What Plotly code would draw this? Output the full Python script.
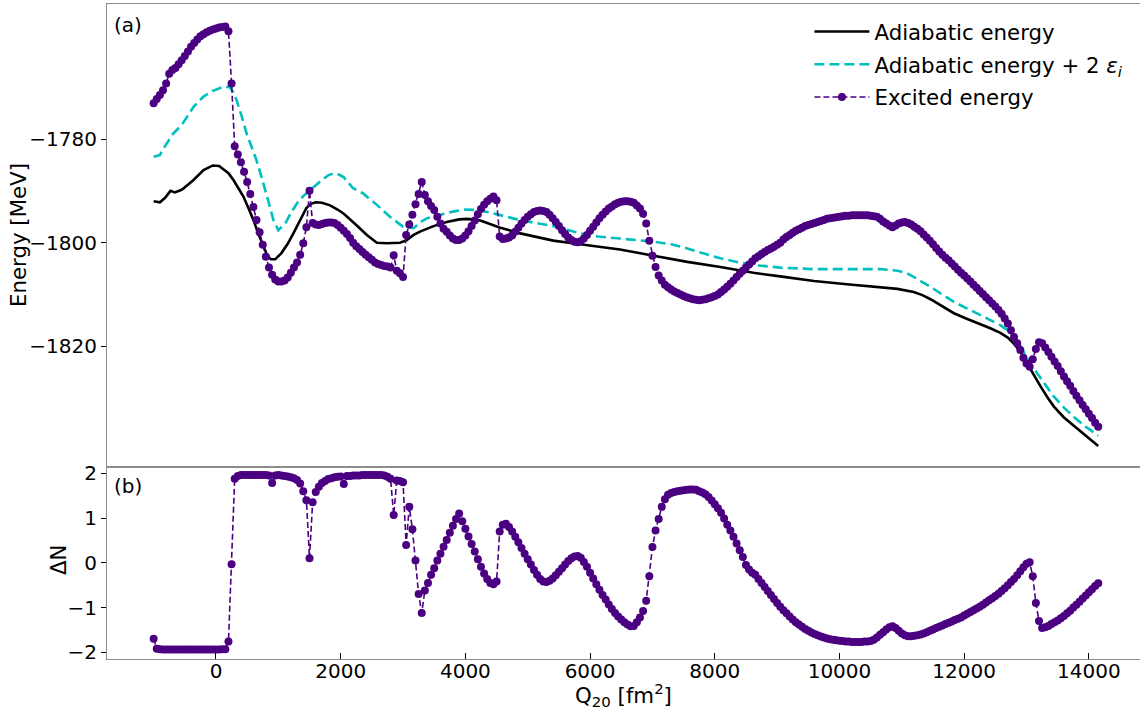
import numpy as np
import plotly.graph_objects as go

# ---------------- data ----------------
q_start, q_step, q_stop = -1000, 50, 14150
q20 = list(range(q_start, q_stop + 1, q_step))

excited_energy = [
    -1773.1, -1772.3, -1771.5, -1770.6, -1769.3, -1767.4, -1766.7, -1766.3, -1765.6, -1764.8,
    -1764.0, -1763.1, -1762.2, -1761.5, -1760.8, -1760.2, -1759.8, -1759.4, -1759.1, -1758.9,
    -1758.7, -1758.5, -1758.4, -1758.3, -1759.2, -1769.3, -1781.4, -1783.0, -1784.5, -1786.3,
    -1788.3, -1790.6, -1793.1, -1795.6, -1798.0, -1800.4, -1802.7, -1804.8, -1806.2, -1807.1,
    -1807.5, -1807.5, -1807.3, -1806.7, -1805.8, -1804.8, -1803.8, -1802.3, -1800.1, -1797.0,
    -1790.0, -1796.2, -1796.5, -1796.6, -1796.4, -1796.2, -1796.1, -1796.1, -1796.2, -1796.6,
    -1797.1, -1797.7, -1798.3, -1799.1, -1800.0, -1800.7, -1801.2, -1801.8, -1802.3, -1802.8,
    -1803.3, -1803.8, -1804.1, -1804.3, -1804.5, -1804.6, -1804.8, -1802.4, -1805.4, -1805.9,
    -1806.6, -1798.5, -1796.5, -1794.6, -1792.6, -1790.6, -1788.3, -1790.8, -1792.0, -1792.9,
    -1793.7, -1795.0, -1796.3, -1797.3, -1797.9, -1798.6, -1799.2, -1799.5, -1799.5, -1799.2,
    -1798.6, -1797.8, -1796.8, -1795.7, -1794.5, -1793.5, -1792.7, -1792.0, -1791.5, -1791.1,
    -1791.8, -1798.8, -1799.3, -1799.2, -1799.0, -1798.6, -1797.9, -1797.1, -1796.3, -1795.6,
    -1795.0, -1794.5, -1794.1, -1793.9, -1793.8, -1793.9, -1794.1, -1794.6, -1795.3, -1796.0,
    -1796.8, -1797.6, -1798.3, -1799.0, -1799.5, -1799.8, -1799.9, -1799.7, -1799.2, -1798.5,
    -1797.7, -1796.9, -1796.1, -1795.3, -1794.6, -1794.0, -1793.4, -1793.0, -1792.6, -1792.3,
    -1792.1, -1792.0, -1792.0, -1792.1, -1792.3, -1792.8, -1793.4, -1794.4, -1796.3, -1799.6,
    -1802.5, -1804.7, -1806.3, -1807.3, -1808.1, -1808.6, -1809.0, -1809.4, -1809.7, -1810.0,
    -1810.3, -1810.5, -1810.7, -1810.9, -1811.0, -1811.1, -1811.0, -1810.9, -1810.7, -1810.5,
    -1810.3, -1810.0, -1809.5, -1809.0, -1808.5, -1807.9, -1807.3, -1806.6, -1806.0, -1805.4,
    -1804.8, -1804.2, -1803.6, -1803.0, -1802.6, -1802.2, -1801.8, -1801.4, -1801.1, -1800.8,
    -1800.4, -1800.0, -1799.4, -1798.9, -1798.5, -1798.1, -1797.7, -1797.4, -1797.1, -1796.8,
    -1796.6, -1796.4, -1796.2, -1796.0, -1795.8, -1795.6, -1795.4, -1795.3, -1795.2, -1795.1,
    -1795.0, -1794.9, -1794.8, -1794.8, -1794.7, -1794.7, -1794.7, -1794.7, -1794.7, -1794.7,
    -1794.8, -1794.9, -1795.0, -1795.4, -1795.9, -1796.3, -1796.7, -1797.0, -1796.7, -1796.3,
    -1796.1, -1796.0, -1796.2, -1796.5, -1796.9, -1797.3, -1797.8, -1798.4, -1799.0, -1799.6,
    -1800.3, -1801.0, -1801.7, -1802.3, -1802.9, -1803.4, -1804.0, -1804.6, -1805.2, -1805.8,
    -1806.3, -1806.9, -1807.5, -1808.1, -1808.7, -1809.3, -1809.9, -1810.5, -1811.1, -1811.7,
    -1812.3, -1813.0, -1813.7, -1814.6, -1815.6, -1816.9, -1818.2, -1819.4, -1820.7, -1822.2,
    -1823.3, -1823.9, -1822.5, -1820.5, -1819.2, -1819.4, -1820.2, -1821.1, -1822.0, -1822.9,
    -1823.8, -1824.8, -1825.8, -1826.7, -1827.6, -1828.6, -1829.5, -1830.4, -1831.3, -1832.1,
    -1833.0, -1833.8, -1834.7, -1835.5,
]

delta_n = [
    -1.70, -1.92, -1.93, -1.94, -1.94, -1.94, -1.94, -1.94, -1.94, -1.94,
    -1.94, -1.94, -1.94, -1.94, -1.94, -1.94, -1.94, -1.94, -1.94, -1.94,
    -1.94, -1.94, -1.93, -1.93, -1.76, -0.03, 1.88, 1.94, 1.96, 1.96,
    1.96, 1.96, 1.96, 1.96, 1.96, 1.96, 1.96, 1.95, 1.78, 1.95,
    1.96, 1.95, 1.94, 1.93, 1.91, 1.89, 1.85, 1.77, 1.60, 1.40,
    0.10, 1.35, 1.58, 1.70, 1.78, 1.83, 1.87, 1.89, 1.91, 1.92,
    1.93, 1.76, 1.94, 1.94, 1.95, 1.95, 1.95, 1.96, 1.96, 1.96,
    1.96, 1.96, 1.96, 1.96, 1.95, 1.92, 1.88, 1.07, 1.84, 1.83,
    1.80, 0.40, 1.25, 0.75, 0.05, -0.70, -1.12, -0.62, -0.45, -0.27,
    -0.12, 0.05, 0.20, 0.36, 0.51, 0.67, 0.83, 0.98, 1.10, 0.93,
    0.76, 0.59, 0.42, 0.25, 0.08, -0.09, -0.24, -0.36, -0.45, -0.48,
    -0.42, 0.70, 0.85, 0.87, 0.80, 0.70, 0.58, 0.46, 0.33, 0.20,
    0.08, -0.04, -0.16, -0.27, -0.36, -0.42, -0.43, -0.40, -0.35, -0.28,
    -0.20, -0.12, -0.04, 0.04, 0.10, 0.14, 0.15, 0.11, 0.02, -0.09,
    -0.22, -0.35, -0.48, -0.60, -0.72, -0.82, -0.93, -1.03, -1.12, -1.20,
    -1.27, -1.33, -1.38, -1.42, -1.41, -1.33, -1.22, -1.08, -0.85, -0.30,
    0.35, 0.72, 0.98, 1.25, 1.42, 1.52, 1.56, 1.58, 1.60, 1.61,
    1.62, 1.63, 1.64, 1.64, 1.63, 1.60, 1.57, 1.53, 1.47, 1.39,
    1.31, 1.22, 1.12, 0.99, 0.85, 0.72, 0.58, 0.43, 0.28, 0.13,
    -0.05, -0.15, -0.22, -0.27, -0.36, -0.45, -0.54, -0.63, -0.72, -0.81,
    -0.90, -0.98, -1.06, -1.13, -1.20, -1.27, -1.33, -1.38, -1.43, -1.48,
    -1.52, -1.56, -1.59, -1.62, -1.65, -1.67, -1.69, -1.71, -1.72, -1.73,
    -1.74, -1.75, -1.76, -1.76, -1.77, -1.77, -1.77, -1.77, -1.76, -1.76,
    -1.75, -1.72, -1.67, -1.61, -1.55, -1.49, -1.44, -1.42, -1.46, -1.52,
    -1.58, -1.62, -1.64, -1.64, -1.63, -1.62, -1.60, -1.58, -1.55, -1.52,
    -1.49, -1.46, -1.43, -1.40, -1.37, -1.34, -1.31, -1.28, -1.25, -1.22,
    -1.18, -1.14, -1.10, -1.06, -1.02, -0.98, -0.94, -0.89, -0.84, -0.79,
    -0.74, -0.69, -0.63, -0.57, -0.50, -0.43, -0.36, -0.28, -0.19, -0.10,
    -0.02, 0.01, -0.30, -0.90, -1.30, -1.46, -1.44, -1.41, -1.37, -1.33,
    -1.29, -1.24, -1.19, -1.13, -1.07, -1.00, -0.94, -0.87, -0.80, -0.73,
    -0.66, -0.59, -0.52, -0.46,
]

adiabatic_q = [-1000, -900, -820, -730, -660, -550, -450, -360, -200, -50, 50, 120, 200, 280, 360,
               440, 520, 600, 680, 760, 820, 880, 950, 1050, 1150, 1250, 1350, 1450, 1520, 1600,
               1700, 1830, 1950, 2050, 2250, 2420, 2580, 2740, 2950, 3060, 3170, 3280, 3490, 3700,
               3900, 4030, 4240, 4400, 4560, 4880, 5140, 5410, 5840, 6480, 7020, 7560, 8090, 8620,
               9050, 9370, 9590, 10120, 10660, 10930, 11190, 11330, 11460, 11650, 11835, 12050,
               12260, 12420, 12580, 12700, 12800, 12910, 13010, 13120, 13230, 13340, 13440, 13600,
               13760, 13950, 14150]
adiabatic_energy = [-1792.0, -1792.2, -1791.4, -1790.0, -1790.3, -1789.8, -1788.8, -1787.9, -1786.0,
                    -1785.1, -1785.2, -1785.8, -1786.6, -1787.9, -1789.4, -1791.1, -1793.3, -1795.6,
                    -1798.3, -1800.8, -1802.4, -1803.2, -1803.2, -1802.0, -1800.2, -1798.0, -1795.5,
                    -1793.3, -1792.5, -1792.2, -1792.3, -1792.8, -1793.6, -1794.4, -1796.6, -1798.5,
                    -1800.0, -1800.1, -1800.0, -1799.5, -1798.5, -1797.8, -1796.8, -1796.0, -1795.5,
                    -1795.4, -1795.7, -1796.4, -1797.1, -1798.2, -1798.9, -1799.6, -1800.3, -1801.3,
                    -1802.5, -1803.7, -1804.7, -1805.8, -1806.5, -1807.1, -1807.4, -1808.0, -1808.6,
                    -1808.9, -1809.5, -1810.1, -1810.9, -1812.3, -1813.6, -1814.7, -1815.7, -1816.5,
                    -1817.4, -1818.3, -1819.5, -1821.2, -1823.3, -1825.6, -1827.8, -1829.9, -1831.6,
                    -1833.7, -1835.3, -1837.3, -1839.2]

adiabatic_eps_q = [-1000, -900, -850, -790, -690, -550, -450, -360, -200, -50, 120, 220, 280, 330,
                   410, 490, 570, 650, 730, 810, 870, 920, 1000, 1050, 1110, 1200, 1300, 1400, 1510,
                   1670, 1800, 1890, 1980, 2050, 2200, 2360, 2470, 2580, 2790, 3000, 3170, 3270,
                   3380, 3600, 3800, 3970, 4200, 4400, 4610, 4830, 5040, 5410, 5840, 6130, 6480,
                   7020, 7300, 7560, 7800, 8090, 8350, 8620, 9050, 9590, 10120, 10660, 10930, 11070,
                   11190, 11330, 11460, 11650, 11835, 12050, 12260, 12420, 12580, 12700, 12800,
                   12910, 13010, 13120, 13230, 13340, 13440, 13600, 13760, 13950, 14150]
adiabatic_eps_energy = [-1783.4, -1783.1, -1782.0, -1780.8, -1779.0, -1777.3, -1775.5, -1773.8,
                        -1771.8, -1770.7, -1769.9, -1770.0, -1771.0, -1772.5, -1775.5, -1778.9,
                        -1781.5, -1784.1, -1787.3, -1790.5, -1793.3, -1795.6, -1797.6, -1797.0,
                        -1796.3, -1794.3, -1792.4, -1791.0, -1789.8, -1788.2, -1787.0, -1786.6,
                        -1786.9, -1787.4, -1789.5, -1790.5, -1791.6, -1792.7, -1795.0, -1796.9,
                        -1797.2, -1796.1, -1795.3, -1794.6, -1794.0, -1793.6, -1793.7, -1794.2,
                        -1794.9, -1795.5, -1796.0, -1796.8, -1798.2, -1798.8, -1799.2, -1799.8,
                        -1800.3, -1801.1, -1802.0, -1803.0, -1803.7, -1804.3, -1804.8, -1805.1,
                        -1805.1, -1805.1, -1805.4, -1805.8, -1806.6, -1807.5, -1808.5, -1810.0,
                        -1811.4, -1812.7, -1814.0, -1814.9, -1815.9, -1816.9, -1818.1, -1820.0,
                        -1822.3, -1824.3, -1826.2, -1828.1, -1829.7, -1831.8, -1833.6, -1835.5,
                        -1837.2]

energy_ticks = [-1820, -1800, -1780]
dn_ticks = [-2, -1, 0, 1, 2]
q_ticks = [0, 2000, 4000, 6000, 8000, 10000, 12000, 14000]
q_tick_labels = ["0", "2000", "4000", "6000", "8000", "10000", "12000", "14000"]

# ---------------- style ----------------
FONT = "DejaVu Sans"
INDIGO = "#4B0082"
CYAN = "#00BFBF"
SPINE = "#8c8c8c"
LABEL_SIZE = 21.3
PLOT_W = 1033.0
PLOT_H = 655.0

fig = go.Figure()

fig.add_trace(go.Scatter(
    x=adiabatic_q, y=adiabatic_energy, mode="lines", name="Adiabatic energy",
    line=dict(color="black", width=2.6), xaxis="x", yaxis="y", legendgroup="a"))
fig.add_trace(go.Scatter(
    x=adiabatic_eps_q, y=adiabatic_eps_energy, mode="lines",
    name="Adiabatic energy + 2 <i>ε<sub>i</sub></i>",
    line=dict(color=CYAN, width=2.6, dash="10px,5px"), xaxis="x", yaxis="y", legendgroup="b"))
fig.add_trace(go.Scatter(
    x=q20, y=excited_energy, mode="lines+markers", name="Excited energy",
    line=dict(color=INDIGO, width=1.6, dash="6px,3px"),
    marker=dict(color=INDIGO, size=8), xaxis="x", yaxis="y", legendgroup="c"))
fig.add_trace(go.Scatter(
    x=q20, y=delta_n, mode="lines+markers", showlegend=False,
    line=dict(color=INDIGO, width=1.6, dash="6px,3px"),
    marker=dict(color=INDIGO, size=8), xaxis="x2", yaxis="y2"))

split = (659 - 466.7) / PLOT_H
xr = [-1748, 14820]

common_x = dict(range=xr, showgrid=False, zeroline=False, showline=True, linecolor=SPINE,
                linewidth=1, mirror=True)
fig.update_layout(
    width=1140, height=711,
    margin=dict(l=107, r=0, t=4, b=52),
    paper_bgcolor="white", plot_bgcolor="white",
    font=dict(family=FONT, size=20, color="black"),
    showlegend=True,
    legend=dict(x=0.68, y=0.989, xanchor="left", yanchor="top", bgcolor="rgba(0,0,0,0)",
                font=dict(family=FONT, size=LABEL_SIZE), traceorder="grouped", tracegroupgap=2,
                itemwidth=55),
    xaxis=dict(domain=[0, 1], anchor="y", showticklabels=False, ticks="", **common_x),
    xaxis2=dict(domain=[0, 1], anchor="y2", matches="x", tickvals=q_ticks, ticktext=q_tick_labels,
                ticks="inside", ticklen=6, tickcolor="black", tickwidth=1.2, ticklabelstandoff=-6,
                tickfont=dict(family=FONT, size=20, color="black"),
                title=dict(text="Q<sub>20</sub> [fm<sup>2</sup>]", standoff=10,
                           font=dict(family=FONT, size=LABEL_SIZE)),
                **common_x),
    yaxis=dict(domain=[split, 1], anchor="x", range=[-1843.2, -1753.96], tickvals=energy_ticks,
               ticks="outside", ticklen=5, tickcolor="black", tickwidth=1.2,
               showgrid=False, zeroline=False, showline=True, linecolor=SPINE, linewidth=1,
               tickfont=dict(family=FONT, size=20, color="black")),
    yaxis2=dict(domain=[0, split], anchor="x2", range=[-2.15, 2.147], tickvals=dn_ticks,
                ticks="outside", ticklen=5, tickcolor="black", tickwidth=1.2,
                showgrid=False, zeroline=False, showline=True, linecolor=SPINE, linewidth=1,
                tickfont=dict(family=FONT, size=20, color="black")),
    annotations=[
        dict(text="(a)", x=0.005, y=(659 - 25) / PLOT_H, xref="paper", yref="paper",
             xanchor="left", yanchor="middle", showarrow=False, font=dict(family=FONT, size=20)),
        dict(text="(b)", x=0.005, y=(659 - 486) / PLOT_H, xref="paper", yref="paper",
             xanchor="left", yanchor="middle", showarrow=False, font=dict(family=FONT, size=20)),
        dict(text="Energy [MeV]", textangle=-90, x=(18 - 107) / PLOT_W, y=(659 - 235) / PLOT_H,
             xref="paper", yref="paper", xanchor="center", yanchor="middle", showarrow=False,
             font=dict(family=FONT, size=LABEL_SIZE)),
        dict(text="ΔN", textangle=-90, x=(58 - 107) / PLOT_W, y=(659 - 560) / PLOT_H,
             xref="paper", yref="paper", xanchor="center", yanchor="middle", showarrow=False,
             font=dict(family=FONT, size=LABEL_SIZE)),
    ],
)

fig.write_html("out.html")
